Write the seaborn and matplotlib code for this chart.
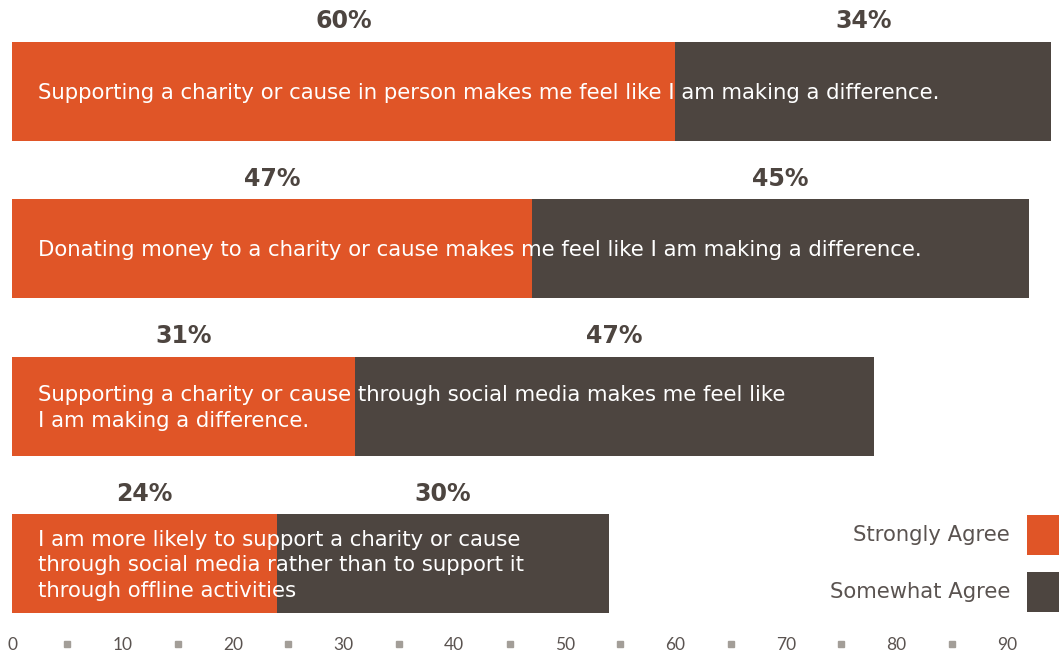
import matplotlib
matplotlib.use("Agg")
import matplotlib.pyplot as plt
import seaborn as sns
import pandas as pd
from matplotlib.patches import Rectangle
from matplotlib.transforms import blended_transform_factory

statements = [
    "Supporting a charity or cause in person makes me feel like I am making a difference.",
    "Donating money to a charity or cause makes me feel like I am making a difference.",
    "Supporting a charity or cause through social media makes me feel like\nI am making a difference.",
    "I am more likely to support a charity or cause\nthrough social media rather than to support it\nthrough offline activities",
]
strongly_agree = [60, 47, 31, 24]
somewhat_agree = [34, 45, 47, 30]
tick_values = [0, 10, 20, 30, 40, 50, 60, 70, 80, 90]
series_names = ["Strongly Agree", "Somewhat Agree"]

ORANGE = "#e05527"
DARK = "#4d4540"
TXT = "#5a5350"

sns.set_theme(style="white")
plt.rcParams["font.family"] = ["DejaVu Sans"]

df = pd.DataFrame({
    "statement": statements,
    "strong": strongly_agree,
    "somewhat": somewhat_agree,
})

W, H = 1059, 657
fig = plt.figure(figsize=(W / 100, H / 100), dpi=100)
ax = fig.add_axes([12 / W, 32 / H, 1 - 12 / W, 625 / H])

df["total"] = df["strong"] + df["somewhat"]
sns.barplot(data=df, y="statement", x="total", orient="h", color=DARK,
            width=0.63, ax=ax, saturation=1, order=statements, linewidth=0)
sns.barplot(data=df, y="statement", x="strong", orient="h", color=ORANGE,
            width=0.63, ax=ax, saturation=1, order=statements, linewidth=0)

ax.set_xlim(0, 94.7)
ax.set_ylim(3.39, -0.58)
for s in ax.spines.values():
    s.set_visible(False)
ax.set_ylabel("")
ax.set_xlabel("")
ax.set_yticks([])
ax.set_xticks(tick_values)
ax.set_xticklabels([str(v) for v in tick_values], fontsize=12.5, color=TXT,
                   family=["Lato", "DejaVu Sans"])
ax.tick_params(axis="x", length=0, pad=9)
ax.grid(False)

# small square markers between tick labels
trans = blended_transform_factory(ax.transData, ax.transAxes)
mids = [v + 5 for v in tick_values[:-1]]
ax.plot(mids, [-0.03] * len(mids), ls="none", marker="s", ms=5,
        color="#a39e98", transform=trans, clip_on=False)

for i, row in df.iterrows():
    ax.text(2.35, i + 0.01, row["statement"], color="white", fontsize=15.3,
            va="center", ha="left", linespacing=1.35)
    ax.text(row["strong"] / 2, i - 0.445, f"{row['strong']}%",
            ha="center", va="center", fontsize=17, fontweight="bold", color=DARK)
    ax.text(row["strong"] + row["somewhat"] / 2, i - 0.445,
            f"{row['somewhat']}%", ha="center", va="center", fontsize=17,
            fontweight="bold", color=DARK)

# legend (squares at right edge, labels right-aligned to their left)
leg_colors = [ORANGE, DARK]
leg_tops = [515, 572]
for name, col, top in zip(series_names, leg_colors, leg_tops):
    fig.patches.append(Rectangle((1027 / W, 1 - (top + 40) / H), 32 / W, 40 / H,
                                 transform=fig.transFigure, facecolor=col,
                                 edgecolor="none"))
    fig.text(1010 / W, 1 - (top + 20) / H, name, ha="right", va="center",
             fontsize=15.2, color=TXT)

fig.savefig("out.png", dpi=100)
